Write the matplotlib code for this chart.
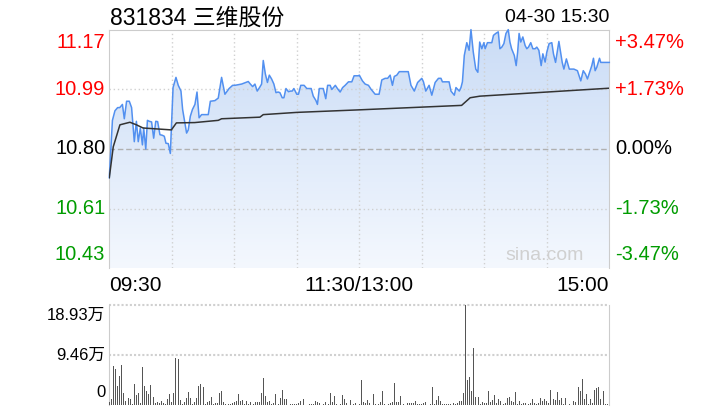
import numpy as np
import matplotlib
matplotlib.use('Agg')
import matplotlib.pyplot as plt
from matplotlib import transforms
from matplotlib.colors import LinearSegmentedColormap

plt.rcParams['font.family'] = ['Liberation Sans', 'Noto Sans CJK SC', 'DejaVu Sans']

# 数据
title = '831834 三维股份'
stamp = '04-30 15:30'
base = 10.80
price_ticks = [11.17, 10.99, 10.80, 10.61, 10.43]
pct_labels = ['+3.47%', '+1.73%', '0.00%', '-1.73%', '-3.47%']
time_labels = ['09:30', '11:30/13:00', '15:00']
vol_labels = ['18.93万', '9.46万', '0']
vol_max = 18.93

# 分时价格 (分钟, 价格)
price_t = [0, 1.5, 2.7, 4, 5, 6.3, 7.2, 8.3, 9.6, 10.7, 12, 13, 13.9, 14.9, 15.9, 16.5, 17.5, 18.3,
           19.2, 20.3, 21.3, 22.3, 23.2, 24.3, 25.5, 26.4, 27.2, 28.3, 29.3, 30.6, 32, 33.1, 34.4,
           35.2, 36.3, 37.1, 37.9, 38.9, 39.9, 41.1, 42.1, 43.1, 44.3, 45.6, 47.5, 48.5, 50.7, 52.3,
           53.9, 55.5, 57.5, 59.2, 60.3,
           63.5, 66.7, 67.7, 68.8, 69.9, 71, 72.3, 73.1, 73.9, 74.9, 75.9, 76.8, 77.9, 79, 80, 81,
           81.9, 83, 83.8, 84.8, 86, 87, 87.8, 88.6, 90, 90.8, 91.9, 93.5, 94.8, 96.9, 97.9, 99.2,
           99.9, 100.8, 102.7, 103.9, 104.8, 106, 106.8, 108.5, 109.5, 110.8, 112, 113.2, 114.8,
           116.4, 117.5, 119.6, 120,
           121.5, 122.8, 124.4, 125.6, 127.6, 129.5, 130.8, 132.4, 133.6, 134.8, 135.9, 136.8, 138,
           139.2, 143.5, 144.8, 146.4, 148, 150, 150.8, 151.9, 153.5, 154.8, 156.4, 158, 159.2,
           159.9, 163.1, 164, 165.6, 166.4, 168, 168.8, 169.5, 170.4, 171.6, 172.7, 173.6, 174.7,
           175.9, 176.9, 177.8, 178.8, 179.8,
           180.4, 181.5, 183.6, 184.4, 185.5, 186.7, 187.5, 188.4, 189.4, 190.4, 191.5, 192.3,
           193.1, 194.4, 195.3, 196, 196.7, 197.5, 198.5, 199.6, 200.4, 201.2, 202.3, 203.3, 204.4,
           205.2, 206.2, 207.3, 208.1, 209.2, 210, 211.1, 212.4, 213.2, 214.2, 215.8, 217.4, 218.2,
           219.4, 220.8, 223, 224.7, 226.3, 227.5, 228.6, 229.5, 230.8, 231.6, 232.4, 233.2, 234,
           235.3, 235.9, 240]
price_v = [10.71, 10.89, 10.92, 10.93, 10.93, 10.94, 10.895, 10.95, 10.95, 10.93, 10.823, 10.887,
           10.823, 10.866, 10.813, 10.866, 10.80, 10.89, 10.887, 10.885, 10.834, 10.887, 10.886,
           10.845, 10.843, 10.84, 10.818, 10.817, 10.786, 10.993, 11.025, 11.0, 10.982, 10.924,
           10.88, 10.85, 10.86, 10.903, 10.924, 10.94, 10.979, 10.898, 10.908, 10.908, 10.908,
           10.95, 10.952, 10.96, 11.025, 10.972, 10.99, 11.0, 11.0,
           11.004, 11.012, 11.004, 10.996, 11.004, 10.982, 10.995, 11.004, 11.078, 11.036, 11.009,
           11.032, 11.02, 11.004, 10.977, 10.979, 10.977, 10.961, 10.961, 10.99, 10.98, 10.982,
           10.982, 10.99, 10.972, 10.972, 11.0, 11.0, 10.99, 10.99, 10.966, 10.952, 10.94, 10.99,
           10.99, 10.958, 11.0, 11.0, 10.987, 11.0, 10.99, 10.979, 10.993, 11.0, 11.011, 11.011,
           11.03, 11.03, 11.032,
           11.014, 11.004, 11.0, 10.988, 10.972, 10.972, 11.017, 11.022, 11.022, 11.032, 11.0,
           11.028, 11.032, 11.043, 11.043, 11.0, 10.982, 11.009, 11.022, 11.011, 10.982, 11.0,
           10.969, 11.009, 11.022, 11.022, 11.011, 11.011, 10.982, 10.969, 10.993, 10.982, 10.993,
           11.011, 11.094, 11.134, 11.11, 11.175, 11.105, 11.051, 11.041, 11.136, 11.115, 11.134,
           11.115, 11.134, 11.134, 11.157, 11.163, 11.168, 11.115, 11.12, 11.131, 11.163, 11.175,
           11.136, 11.115, 11.094, 11.062, 11.104, 11.163, 11.136, 11.152, 11.125, 11.115, 11.12,
           11.134, 11.115, 11.115, 11.12, 11.11, 11.062, 11.099, 11.073, 11.104, 11.131, 11.134,
           11.099, 11.072, 11.138, 11.072, 11.051, 11.083, 11.051, 11.051, 11.046, 11.014, 11.046,
           11.035, 11.02, 11.046, 11.062, 11.085, 11.046, 11.057, 11.085, 11.072, 11.072]

# 均价线
avg_t = [0, 1.9, 5.1, 9.9, 13, 16.2, 29.8, 32.2, 41, 52.3, 53.9, 72.3, 73.9, 90, 120, 169.1,
         173.2, 177.9, 240]
avg_v = [10.71, 10.807, 10.876, 10.884, 10.876, 10.866, 10.86, 10.882, 10.883, 10.89, 10.895,
         10.9, 10.908, 10.915, 10.923, 10.937, 10.961, 10.966, 10.991]

# 成交量 (万), 每分钟一根
volume = [0.5, 1.1, 7.4, 6.8, 3.6, 5.5, 7.6, 2.3, 0.8, 1.3,
          1.1, 0.1, 4.0, 1.9, 2.3, 0.3, 7.2, 3.6, 2.6, 2.1,
          3.8, 1.5, 0.4, 0.6, 0.4, 0.8, 0.4, 0.2, 1.1, 2.1,
          0.6, 2.3, 8.9, 8.7, 0.9, 0.2, 0.6, 1.3, 2.5, 1.3,
          0.2, 0.6, 1.3, 3.6, 4.0, 3.4, 0.2, 0.6, 0.8, 1.5,
          0.2, 0.4, 0.4, 2.3, 2.6, 0.6, 0.2, 0.2, 0.2, 0.4,
          0.6, 0.8, 2.1, 0.8, 0.9, 0.2, 0.8, 0.2, 0.6, 0.2,
          0.6, 0.6, 0.6, 2.3, 5.1, 1.7, 0.6, 0.8, 0.2, 0.4,
          2.1, 0.2, 1.3, 2.8, 1.1, 1.1, 0.05, 0.2, 0.2, 0.2,
          0.2, 0.4, 0.8, 1.1, 0.05, 0.05, 0.2, 0.2, 0.2, 0.8,
          0.6, 0.4, 0.05, 0.2, 0.6, 0.2, 2.3, 0.6, 1.7, 0.2,
          0.05, 0.2, 1.9, 1.1, 0.4, 0.05, 0.9, 0.2, 0.4, 0.05,
          0.2,
          4.7, 0.6, 0.4, 0.9, 0.4, 0.05, 2.1, 0.2, 0.2, 0.6,
          2.6, 0.2, 0.05, 0.2, 0.4, 0.6, 4.2, 0.6, 0.6, 1.7,
          0.2, 0.05, 0.4, 0.4, 0.4, 0.4, 0.8, 0.2, 0.2, 0.2,
          0.4, 0.6, 0.05, 0.2, 3.4, 0.2, 0.9, 1.7, 0.8, 0.2,
          0.2, 0.2, 0.2, 0.2, 0.4, 0.2, 0.4, 0.8, 0.8, 2.3,
          18.93, 4.7, 5.3, 2.6, 10.8, 1.5, 1.5, 0.2, 0.6, 0.4,
          0.4, 2.6, 0.6, 0.9, 1.9, 0.4, 1.1, 0.8, 0.2, 0.4,
          1.3, 1.5, 0.8, 0.6, 2.5, 0.2, 0.8, 0.2, 0.4, 0.4,
          0.2, 0.4, 1.1, 0.4, 0.2, 0.4, 1.3, 0.8, 1.1, 0.8,
          0.4, 2.8, 1.1, 0.9, 2.5, 0.9, 1.3, 0.2, 1.3, 0.05,
          0.2, 0.05, 0.8, 0.6, 3.4, 2.6, 4.9, 1.1, 2.1, 0.2,
          1.1, 0.4, 2.8, 3.2, 3.4, 1.1, 2.6, 0.2, 0.2, 5.1]

RED, GREEN, BLACK = '#ff0000', '#009c00', '#000000'
label_colors = [RED, RED, BLACK, GREEN, GREEN]

W, H = 720, 420
fig = plt.figure(figsize=(W / 100, H / 100), dpi=100)


def box(l, t, r, b):
    return [l / W, 1 - b / H, (r - l) / W, (b - t) / H]


# 价格图
ax = fig.add_axes(box(109.3, 29.7, 609.3, 268.3))
ylo, yhi = base * (1 - 0.0347), base * (1 + 0.0347)
ax.set_xlim(0, 240)
ax.set_ylim(ylo, yhi)

poly = ax.fill_between(price_t, price_v, ylo, color='none', lw=0)
grad = np.linspace(1, 0, 256).reshape(-1, 1)
cmap = LinearSegmentedColormap.from_list('fill', ['#f4f8fe', '#cadcf6'])
im = ax.imshow(grad, cmap=cmap, aspect='auto', extent=[0, 240, ylo, yhi], zorder=1)
im.set_clip_path(poly.get_paths()[0], transform=ax.transData)
ax.set_xlim(0, 240)
ax.set_ylim(ylo, yhi)

for m in range(30, 240, 30):
    ax.axvline(m, color='#d0d0d0', lw=1, ls=(0, (1, 2)), zorder=2)
for p in [base * (1 + 0.01735), base * (1 - 0.01735)]:
    ax.axhline(p, color='#d0d0d0', lw=1, ls=(0, (1, 2)), zorder=2)
ax.axhline(base, color='#b0b0b0', lw=1, ls=(0, (4, 2)), zorder=2)

ax.plot(price_t, price_v, color='#5290f0', lw=1.1, zorder=4, clip_on=False)
ax.plot(avg_t, avg_v, color='#333333', lw=1.1, zorder=5)

ax.set_xticks([])
ax.set_yticks([])
for s in ['left', 'right', 'top']:
    ax.spines[s].set_color('#cccccc')
ax.spines['bottom'].set_visible(False)

ylevels = [yhi, base * (1 + 0.01735), base, base * (1 - 0.01735), ylo]
vas = ['top', 'center', 'center', 'center', 'bottom']
dys = [-3, 0, 0, 0, 4]
for lvl, lab, pct, c, va, dy in zip(ylevels, price_ticks, pct_labels, label_colors, vas, dys):
    tl = transforms.offset_copy(ax.get_yaxis_transform(), fig=fig, x=-4, y=dy, units='dots')
    tr = transforms.offset_copy(ax.get_yaxis_transform(), fig=fig, x=6, y=dy, units='dots')
    ax.text(0, lvl, f'{lab:.2f}', color=c, fontsize=14.5, ha='right', va=va, transform=tl)
    ax.text(1, lvl, pct, color=c, fontsize=14.5, ha='left', va=va, transform=tr)

tb = transforms.offset_copy(ax.get_xaxis_transform(), fig=fig, x=0, y=-17, units='dots')
for m, lab, ha in zip([0, 120, 240], time_labels, ['left', 'center', 'right']):
    ax.text(m, 0, lab, fontsize=15, ha=ha, va='center', transform=tb)

fig.text(110 / W, 1 - 18 / H, title, fontsize=16.5, ha='left', va='center')
fig.text(609 / W, 1 - 18 / H, stamp, fontsize=14, ha='right', va='center')
fig.text(545 / W, 1 - 255 / H, 'sina.com', fontsize=14, color='#d0d0d0', ha='center', va='center')

# 成交量图
ax2 = fig.add_axes(box(109.3, 305, 609.3, 405))
ax2.bar(np.arange(len(volume)), volume, width=0.5, color='#555555', zorder=3)
ax2.set_xlim(0, 240)
ax2.set_ylim(0, vol_max)
ax2.axhline(vol_max, color='#d0d0d0', lw=1.5, ls=(0, (1, 1)), clip_on=False)
ax2.axhline(vol_max / 2, color='#d0d0d0', lw=1.5, ls=(0, (1, 1)))
ax2.set_xticks([])
ax2.set_yticks([])
for s in ['left', 'right']:
    ax2.spines[s].set_color('#cccccc')
ax2.spines['top'].set_visible(False)
ax2.spines['bottom'].set_visible(False)

for lvl, lab, va, dy in zip([vol_max, vol_max / 2, 0], vol_labels, ['top', 'center', 'bottom'], [-3, 0, 5]):
    tv = transforms.offset_copy(ax2.get_yaxis_transform(), fig=fig, x=-4, y=dy, units='dots')
    ax2.text(0, lvl, lab, fontsize=12, ha='right', va=va, transform=tv)

fig.savefig('out.png', dpi=100)
